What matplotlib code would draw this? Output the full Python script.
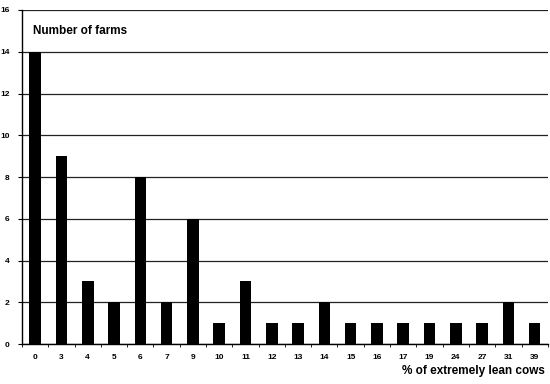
import matplotlib
matplotlib.use("Agg")
import matplotlib.pyplot as plt
import numpy as np

categories = ["0", "3", "4", "5", "6", "7", "9", "10", "11", "12", "13", "14",
              "15", "16", "17", "19", "24", "27", "31", "39"]
farms = [14, 9, 3, 2, 8, 2, 6, 1, 3, 1, 1, 2, 1, 1, 1, 1, 1, 1, 2, 1]

plt.rcParams['font.family'] = ['Liberation Sans', 'DejaVu Sans']

fig = plt.figure(figsize=(5.5, 3.84), dpi=100)
ax = fig.add_axes([0.040, 0.104, 0.956, 0.870])

x = np.arange(len(categories))
ax.bar(x, farms, width=0.44, color="black", zorder=3)

ax.set_xlim(-0.5, len(categories) - 0.5)
ax.set_ylim(0, 16)
ax.set_yticks(range(0, 17, 2))
ax.yaxis.grid(True, color="#222222", linewidth=0.9, zorder=0)

ax.set_xticks(x)
ax.set_xticklabels(categories, fontsize=6, fontweight="bold")
ax.set_xticks(np.arange(-0.5, len(categories), 1), minor=True)
ax.tick_params(axis="x", which="major", length=0, pad=7)
ax.tick_params(axis="x", which="minor", length=2, direction="out")
ax.tick_params(axis="y", labelsize=6, length=3, pad=6)
for lbl in ax.get_yticklabels():
    lbl.set_fontweight("bold")

ax.spines["top"].set_visible(False)
ax.spines["right"].set_visible(False)
ax.spines["left"].set_linewidth(1.0)
ax.spines["bottom"].set_linewidth(1.0)

ax.text(0.02, 0.955, "Number of farms", transform=ax.transAxes,
        fontsize=8.5, fontweight="bold", va="top", ha="left")
fig.text(0.99, 0.018, "% of extremely lean cows", fontsize=8.5,
         fontweight="bold", ha="right", va="bottom")

fig.savefig("out.png", dpi=100)
